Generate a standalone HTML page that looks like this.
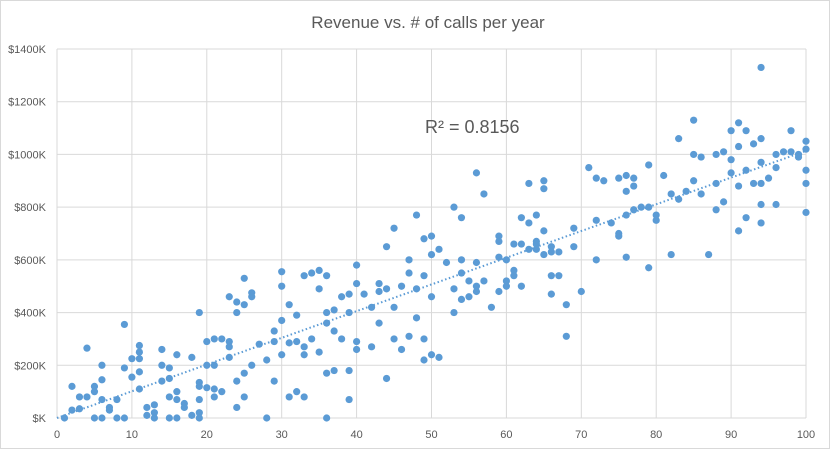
<!DOCTYPE html>
<html><head><meta charset="utf-8"><style>
html,body{margin:0;padding:0;background:#fff;}
svg{display:block;font-family:"Liberation Sans",sans-serif;}
</style></head><body>
<svg id="chart" width="830" height="449">
<rect x="0.5" y="0.5" width="829" height="448" fill="#fff" stroke="#d9d9d9"/>
<text x="428" y="28" text-anchor="middle" font-size="17" fill="#595959">Revenue vs. # of calls per year</text>
<g id="grid"></g><g id="axes"></g><g id="trend"></g><g id="pts"></g>
<text x="425" y="133" font-size="18" fill="#595959">R² = 0.8156</text>
</svg>
<script>
const xTicks=[0,10,20,30,40,50,60,70,80,90,100];
const yTicks=[0,200,400,600,800,1000,1200,1400];
const yTickLabels=["$K","$200K","$400K","$600K","$800K","$1000K","$1200K","$1400K"];
const callsX=[1,2,2,3,3,4,4,5,5,5,6,6,6,6,7,7,8,8,9,9,9,10,10,11,11,11,11,11,12,12,13,13,13,14,14,14,15,15,15,15,16,16,16,16,17,17,18,18,19,19,19,19,19,19,20,20,20,21,21,21,21,22,22,23,23,23,23,24,24,24,24,25,25,25,25,26,26,26,27,28,28,29,29,29,30,30,30,30,31,31,31,32,32,32,33,33,33,33,34,34,35,35,35,36,36,36,36,36,37,37,37,38,38,39,39,39,39,40,40,40,40,
41,42,42,43,43,43,44,44,44,45,45,45,46,46,47,47,47,48,48,48,49,49,49,49,50,50,50,50,51,51,52,53,53,53,54,54,54,54,55,55,56,56,56,56,57,57,58,59,59,59,59,60,60,60,61,61,61,62,62,62,63,63,63,64,64,64,64,65,65,65,65,66,66,66,66,67,67,68,68,69,69,70,
71,72,72,72,73,74,75,75,75,76,76,76,76,77,77,77,78,79,79,79,80,80,81,82,82,83,83,84,85,85,85,86,86,87,88,88,88,89,89,90,90,90,91,91,91,91,92,92,92,93,93,94,94,94,94,94,94,95,96,96,96,97,98,98,99,99,100,100,100,100,100];
const revenueK=[0,120,30,35,80,265,80,120,100,0,200,145,70,0,40,30,70,0,355,190,0,225,155,275,250,225,110,175,10,40,50,20,0,260,200,140,190,150,80,0,240,100,70,0,55,40,230,10,400,135,120,70,20,0,290,200,115,300,200,110,80,300,100,460,290,230,270,440,400,140,40,530,430,170,80,475,460,200,280,220,0,330,290,140,500,555,370,240,430,285,80,390,290,100,540,270,240,80,550,300,560,490,250,540,400,360,170,0,410,330,180,460,300,470,400,180,70,580,510,290,260,
470,420,270,510,480,360,650,490,150,720,420,300,500,260,600,550,310,770,490,380,680,540,300,220,690,620,460,240,640,230,590,800,490,400,760,600,550,450,520,460,930,590,500,480,850,520,420,690,670,610,480,600,520,500,660,560,540,760,660,500,890,740,640,770,670,660,640,900,870,710,620,650,630,540,470,630,540,310,430,650,720,480,
950,910,750,600,900,740,910,700,690,920,860,770,610,910,880,790,800,960,800,570,750,770,920,620,850,1060,830,860,1130,1000,900,990,850,620,1000,890,790,1010,820,1090,980,930,1120,1030,880,710,1090,940,760,1040,890,1330,1060,970,890,810,740,910,1000,950,810,1010,1090,1010,1000,990,1050,1020,940,890,780];
const L=57,R=806,T=49,B=418;
const sx=v=>L+(v-0)/100*(R-L);
const sy=v=>B-(v/1400)*(B-T);
const NS="http://www.w3.org/2000/svg";
function mk(tag,attrs,parent){const e=document.createElementNS(NS,tag);for(const k in attrs)e.setAttribute(k,attrs[k]);parent.appendChild(e);return e;}
const grid=document.getElementById('grid'),axes=document.getElementById('axes');
yTicks.forEach((t,i)=>{
  const g=mk('line',{x1:L,x2:R,y1:sy(t),y2:sy(t),stroke:'#d9d9d9','stroke-width':1},grid);
  
  
  const lb=mk('text',{x:46,y:sy(t)+4,'text-anchor':'end','font-size':11,fill:'#595959'},axes);
  lb.textContent=yTickLabels[i];
  
  
});
xTicks.forEach(t=>{
  const g=mk('line',{x1:sx(t),x2:sx(t),y1:T,y2:B,stroke:'#d9d9d9','stroke-width':1},grid);
  
  
  const lb=mk('text',{x:sx(t),y:438,'text-anchor':'middle','font-size':11,fill:'#595959'},axes);
  lb.textContent=t;
  
  
});
// regression trendline
const n=callsX.length;let mx=0,my=0;for(let i=0;i<n;i++){mx+=callsX[i];my+=revenueK[i];}mx/=n;my/=n;
let sxy=0,sxx=0;for(let i=0;i<n;i++){sxy+=(callsX[i]-mx)*(revenueK[i]-my);sxx+=(callsX[i]-mx)**2;}
const m=sxy/sxx,b=my-m*mx;
const tl=mk('line',{x1:sx(0),y1:sy(Math.max(0,b)),x2:sx(100),y2:sy(b+m*100),stroke:'#5b9bd5','stroke-width':2,'stroke-dasharray':'1.5,2.5'},document.getElementById('trend'));


const pts=document.getElementById('pts');
for(let i=0;i<n;i++){
  const c=mk('circle',{cx:sx(callsX[i]),cy:sy(revenueK[i]),r:3.6,fill:'#5b9bd5'},pts);
  
  
}
</script>
</body></html>
